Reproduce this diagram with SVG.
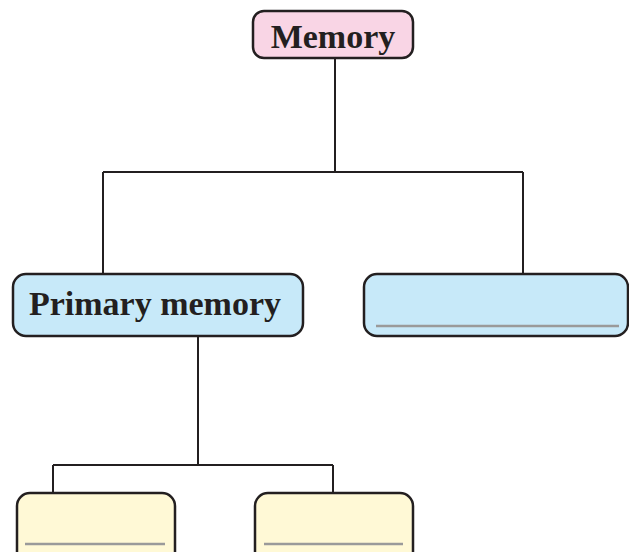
<svg xmlns="http://www.w3.org/2000/svg" width="629" height="552" viewBox="0 0 629 552">
<style>
.box{stroke:#231f20;stroke-width:2.5}
.pink{fill:#f9d5e5}
.blue{fill:#c7e9f9}
.yellow{fill:#fff9d6}
.blank{stroke:#9a9a9a;stroke-width:2.5}
.lbl{font-family:"Liberation Serif","Times New Roman",serif;font-weight:bold;font-size:34px;fill:#231f20}
.conn{fill:none;stroke:#231f20;stroke-width:2}
</style>
<rect width="629" height="552" fill="#fff"/>
<g id="connectors">
<path class="conn" d="M335 58 V172 M103 172 H523 M103 172 V274 M523 172 V274"/>
<path class="conn" d="M198 336 V465 M53 465 H333 M53 465 V493 M333 465 V493"/>
</g>
<g id="memory">
<rect class="box pink" x="253" y="11" width="160" height="47" rx="11"/>
<text class="lbl" x="333" y="48" text-anchor="middle">Memory</text>
</g>
<g id="primary">
<rect class="box blue" x="13" y="274" width="290" height="62" rx="13"/>
<text class="lbl" x="155" y="315" text-anchor="middle">Primary memory</text>
</g>
<g id="secondary">
<rect class="box blue" x="364" y="274" width="264" height="62" rx="13"/>
<line class="blank" x1="376" y1="326" x2="619" y2="326"/>
</g>
<g id="primary-a">
<rect class="box yellow" x="17" y="493" width="158" height="75" rx="13"/>
<line class="blank" x1="25" y1="544" x2="165" y2="544"/>
</g>
<g id="primary-b">
<rect class="box yellow" x="255" y="493" width="158" height="75" rx="13"/>
<line class="blank" x1="264" y1="544" x2="403" y2="544"/>
</g>
</svg>
